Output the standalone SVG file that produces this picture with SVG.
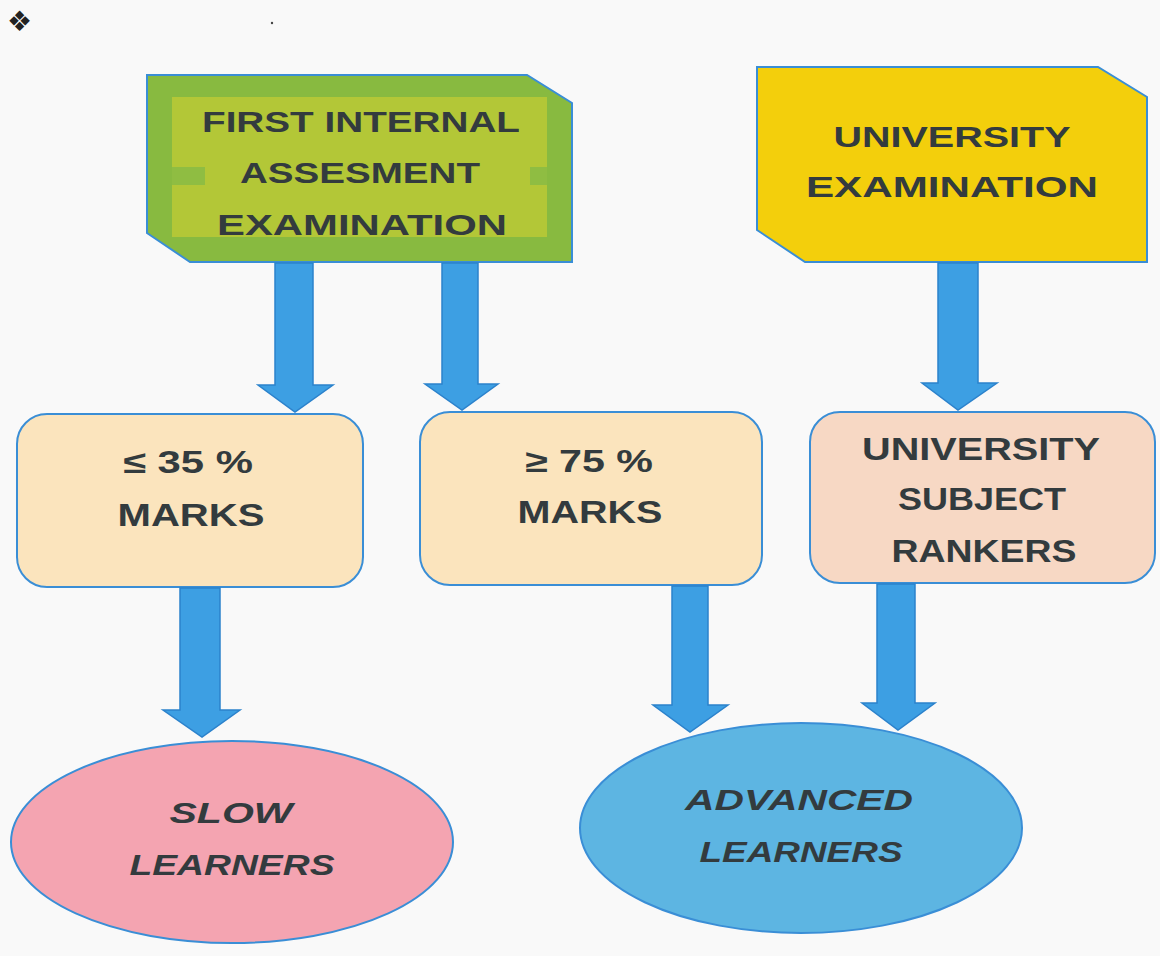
<svg xmlns="http://www.w3.org/2000/svg" width="1160" height="956" viewBox="0 0 1160 956">
<style>
.t{font-family:"Liberation Sans",Arial,sans-serif;font-weight:bold;fill:#333b3e;text-anchor:middle}
.b{font-size:30px}
.m{font-size:31px}
.i{font-size:30px;font-style:italic}
.edge{stroke:#3a8ed6;stroke-width:2}
.arrow{fill:#3d9fe3;stroke:#2b82cc;stroke-width:1.5;stroke-linejoin:miter}
</style>
<rect x="0" y="0" width="1160" height="956" fill="#f9f9f9"/>
<text x="7" y="31" font-family="DejaVu Sans,sans-serif" font-size="28" fill="#222">❖</text>
<circle cx="272" cy="23" r="1.2" fill="#444"/>

<g id="first-internal">
<polygon class="edge" points="147,75 527,75 572,103 572,262 190,262 147,233" fill="#88ba40"/>
<rect x="172" y="97" width="375" height="140" fill="#b3c737"/>
<rect x="172" y="167" width="33" height="18" fill="#8fbd42"/>
<rect x="530" y="167" width="17" height="18" fill="#8fbd42"/>
<text class="t b" x="361" y="132" textLength="318" lengthAdjust="spacingAndGlyphs">FIRST INTERNAL</text>
<text class="t b" x="360" y="183" textLength="240" lengthAdjust="spacingAndGlyphs">ASSESMENT</text>
<text class="t b" x="362" y="235" textLength="290" lengthAdjust="spacingAndGlyphs">EXAMINATION</text>
</g>

<g id="university-exam">
<polygon class="edge" points="757,67 1098,67 1147,97 1147,262 805,262 757,230" fill="#f3cf0c"/>
<text class="t b" x="952" y="147" textLength="237" lengthAdjust="spacingAndGlyphs">UNIVERSITY</text>
<text class="t b" x="952" y="197" textLength="292" lengthAdjust="spacingAndGlyphs">EXAMINATION</text>
</g>

<g id="le35">
<rect class="edge" x="17" y="414" width="346" height="173" rx="30" fill="#fbe4bd"/>
<text class="t m" x="188" y="473" textLength="130" lengthAdjust="spacingAndGlyphs">≤ 35 %</text>
<text class="t m" x="191" y="526" textLength="147" lengthAdjust="spacingAndGlyphs">MARKS</text>
</g>

<g id="ge75">
<rect class="edge" x="420" y="412" width="342" height="173" rx="30" fill="#fbe4bd"/>
<text class="t m" x="589" y="472" textLength="128" lengthAdjust="spacingAndGlyphs">≥ 75 %</text>
<text class="t m" x="590" y="523" textLength="145" lengthAdjust="spacingAndGlyphs">MARKS</text>
</g>

<g id="rankers">
<rect class="edge" x="810" y="412" width="345" height="171" rx="30" fill="#f7d8c4"/>
<text class="t m" x="981" y="460" textLength="238" lengthAdjust="spacingAndGlyphs">UNIVERSITY</text>
<text class="t m" x="982" y="510" textLength="168" lengthAdjust="spacingAndGlyphs">SUBJECT</text>
<text class="t m" x="984" y="562" textLength="185" lengthAdjust="spacingAndGlyphs">RANKERS</text>
</g>

<g id="slow-learners">
<ellipse class="edge" cx="232" cy="842" rx="221" ry="101" fill="#f4a4b1"/>
<text class="t i" x="231" y="823" textLength="123" lengthAdjust="spacingAndGlyphs">SLOW</text>
<text class="t i" x="232" y="875" textLength="205" lengthAdjust="spacingAndGlyphs">LEARNERS</text>
</g>

<g id="advanced-learners">
<ellipse class="edge" cx="801" cy="828" rx="221" ry="105" fill="#5db5e2"/>
<text class="t i" x="799" y="810" textLength="228" lengthAdjust="spacingAndGlyphs">ADVANCED</text>
<text class="t i" x="801" y="862" textLength="203" lengthAdjust="spacingAndGlyphs">LEARNERS</text>
</g>

<g id="connectors">
<polygon class="arrow" points="275,263 313,263 313,385 333,385 295,412 258,385 275,385"/>
<polygon class="arrow" points="442,263 478,263 478,384 498,384 462,410 425,384 442,384"/>
<polygon class="arrow" points="938,263 978,263 978,383 997,383 958,410 922,383 938,383"/>
<polygon class="arrow" points="180,588 220,588 220,710 240,710 202,737 163,710 180,710"/>
<polygon class="arrow" points="672,586 708,586 708,705 728,705 690,732 653,705 672,705"/>
<polygon class="arrow" points="877,584 915,584 915,703 935,703 898,730 862,703 877,703"/>
</g>
</svg>
